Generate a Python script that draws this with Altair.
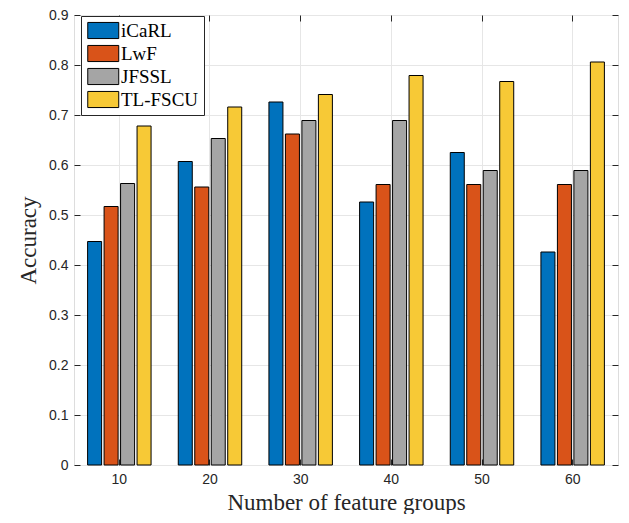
import altair as alt
import pandas as pd

groups = ["10", "20", "30", "40", "50", "60"]
methods = ["iCaRL", "LwF", "JFSSL", "TL-FSCU"]
colors = ["#0072BD", "#D95319", "#A5A5A5", "#F7C936"]
icarl = [0.447, 0.607, 0.726, 0.526, 0.625, 0.426]
lwf = [0.517, 0.556, 0.662, 0.561, 0.561, 0.561]
jfssl = [0.563, 0.653, 0.689, 0.689, 0.589, 0.589]
tlfscu = [0.678, 0.716, 0.741, 0.779, 0.767, 0.806]
y_ticks = [0, 0.1, 0.2, 0.3, 0.4, 0.5, 0.6, 0.7, 0.8, 0.9]

rows = []
for m, vals in zip(methods, [icarl, lwf, jfssl, tlfscu]):
    for g, v in zip(groups, vals):
        rows.append({"group": g, "method": m, "acc": v})
df = pd.DataFrame(rows)

tick_font = "Liberation Sans"
serif = "Liberation Serif"
dark = "#262626"

x_scale = alt.Scale(domain=groups, paddingInner=0.3, paddingOuter=0.15)
y_scale = alt.Scale(domain=[0, 0.9], nice=False, zero=True)

bars = alt.Chart(df).mark_bar(stroke="black", strokeWidth=1).encode(
    x=alt.X("group:N", scale=x_scale, sort=groups,
            axis=alt.Axis(title="Number of feature groups", labelAngle=0,
                          titleFont=serif, titleFontSize=23, titleFontWeight="normal",
                          titleColor=dark, titlePadding=5,
                          labelFont=tick_font, labelFontSize=14, labelColor=dark,
                          offset=-6, tickSize=6, tickColor=dark, labelPadding=7,
                          domain=False, grid=True, gridColor="#e6e6e6")),
    xOffset=alt.XOffset("method:N", sort=methods,
                        scale=alt.Scale(paddingInner=0.15, paddingOuter=0)),
    y=alt.Y("acc:Q", scale=y_scale,
            axis=alt.Axis(title="Accuracy", values=y_ticks,
                          labelExpr="datum.value == 0 ? '0' : format(datum.value, '.1f')",
                          titleFont=serif, titleFontSize=23, titleFontWeight="normal",
                          titleColor=dark, titlePadding=8,
                          labelFont=tick_font, labelFontSize=14, labelColor=dark,
                          offset=-6, tickSize=6, tickColor=dark, labelPadding=6,
                          domain=False, grid=True, gridColor="#e6e6e6")),
    color=alt.Color("method:N", sort=methods,
                    scale=alt.Scale(domain=methods, range=colors),
                    legend=alt.Legend(title=None, orient="none", legendX=7, legendY=1,
                                      fillColor="white", strokeColor=dark,
                                      padding=5,
                                      symbolType="M-1,-1.04L3,-1.04L3,1.04L-1,1.04Z",
                                      symbolSize=240, symbolStrokeColor="black",
                                      symbolStrokeWidth=1, symbolOpacity=1,
                                      labelFont=serif, labelFontSize=19, labelColor="black",
                                      labelOffset=16, rowPadding=2)),
)

frame = alt.Chart(df).mark_point(opacity=0).encode(
    x=alt.X("group:N", scale=x_scale, sort=groups,
            axis=alt.Axis(orient="top", title=None, labels=False, offset=-6,
                          tickSize=6, tickColor=dark, domain=False, grid=False)),
    y=alt.Y("acc:Q", scale=y_scale,
            axis=alt.Axis(orient="right", title=None, labels=False, values=y_ticks,
                          offset=-6, tickSize=6, tickColor=dark,
                          domain=False, grid=False)),
)

chart = alt.layer(bars, frame).resolve_axis(x="independent", y="independent").properties(
    width=544, height=450, padding={"left": 9, "top": 0, "right": 0, "bottom": 0}
).configure_view(stroke="#555555", strokeWidth=1).configure(background="white")

chart.save("out.html", embed_options={"renderer": "svg", "actions": False})
